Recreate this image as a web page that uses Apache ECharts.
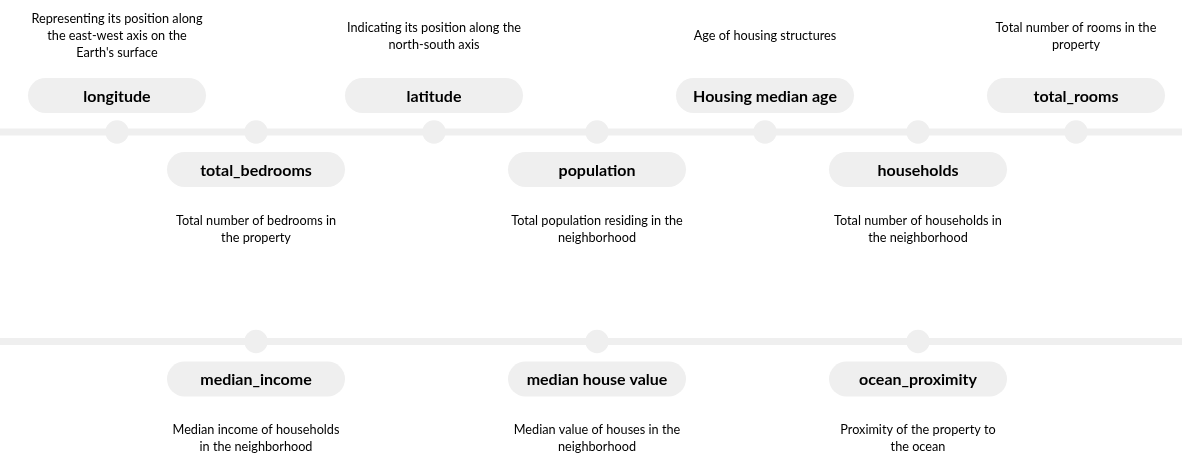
<!DOCTYPE html>
<html>
<head>
<meta charset="utf-8">
<script src="https://cdn.jsdelivr.net/npm/echarts@6/dist/echarts.min.js"></script>
<style>
  html, body { margin: 0; padding: 0; background: #fff; }
  #main { width: 1182px; height: 468px; }
</style>
</head>
<body>
<div id="main"></div>
<script>
// 数据 — features of the housing dataset laid out along two tracks
var featureNames = [
	'longitude', 'total_bedrooms', 'latitude', 'population', 'Housing median age',
	'households', 'total_rooms', 'median_income', 'median house value', 'ocean_proximity'
];
var featureDescs = [
	'Representing its position along\nthe east-west axis on the\nEarth\'s surface',
	'Total number of bedrooms in\nthe property',
	'Indicating its position along the\nnorth-south axis',
	'Total population residing in the\nneighborhood',
	'Age of housing structures',
	'Total number of households in\nthe neighborhood',
	'Total number of rooms in the\nproperty',
	'Median income of households\nin the neighborhood',
	'Median value of houses in the\nneighborhood',
	'Proximity of the property to\nthe ocean'
];
// position along the track (px scale of the x axis)
var featureX = [117, 256, 434, 597, 765, 918, 1076, 256, 597, 918];
// which track (0 = upper, 1 = lower)
var featureTrack = [0, 0, 0, 0, 0, 0, 0, 1, 1, 1];
// label side: 1 = above the track, -1 = below
var featureSide = [1, -1, 1, -1, 1, -1, 1, -1, -1, -1];
var trackY = [132, 341.5];

var W = 1182, H = 468;
var lineColor = '#efefef';

var seriesData = [];
featureNames.forEach(function(name, i) {
	seriesData.push({
		name: name,
		value: [featureX[i], trackY[featureTrack[i]], featureSide[i], i]
	});
});

var myChart = echarts.init(document.getElementById('main'));

var option = {
	backgroundColor: '#fff',
	animation: false,
	grid: { left: 0, right: 0, top: 0, bottom: 0 },
	xAxis: { type: 'value', min: 0, max: W, show: false },
	yAxis: { type: 'value', min: 0, max: H, inverse: true, show: false },
	series: [
		// 轨道线
		{
			type: 'line',
			symbol: 'none',
			lineStyle: { color: lineColor, width: 7 },
			data: [[0, trackY[0]], [W, trackY[0]]],
			z: 1
		},
		{
			type: 'line',
			symbol: 'none',
			lineStyle: { color: lineColor, width: 7 },
			data: [[0, trackY[1]], [W, trackY[1]]],
			z: 1
		},
		// 节点 + 标签
		{
			type: 'custom',
			z: 2,
			data: seriesData,
			renderItem: function(params, api) {
				var pt = api.coord([api.value(0), api.value(1)]);
				var side = api.value(2);
				var idx = api.value(3);
				var pillW = 178, pillH = 35;
				var pillCy = side > 0 ? pt[1] - 36.5 : pt[1] + 37.5;
				var descCy = side > 0 ? pt[1] - 96 : pt[1] + 97;
				return {
					type: 'group',
					children: [
						{
							type: 'circle',
							shape: { cx: pt[0], cy: pt[1], r: 11.7 },
							style: { fill: lineColor }
						},
						{
							type: 'rect',
							shape: { x: pt[0] - pillW / 2, y: pillCy - pillH / 2, width: pillW, height: pillH, r: pillH / 2 },
							style: { fill: lineColor }
						},
						{
							type: 'text',
							x: pt[0],
							y: pillCy + 1,
							style: {
								text: featureNames[idx],
								fill: '#000',
								font: 'bold 16px Lato, "Open Sans", sans-serif',
								align: 'center',
								verticalAlign: 'middle'
							}
						},
						{
							type: 'text',
							x: pt[0],
							y: descCy,
							style: {
								text: featureDescs[idx],
								fill: '#000',
								font: '12.7px Lato, "Open Sans", sans-serif',
								lineHeight: 17,
								align: 'center',
								verticalAlign: 'middle'
							}
						}
					]
				};
			}
		}
	]
};
myChart.setOption(option, true);
</script>
</body>
</html>
